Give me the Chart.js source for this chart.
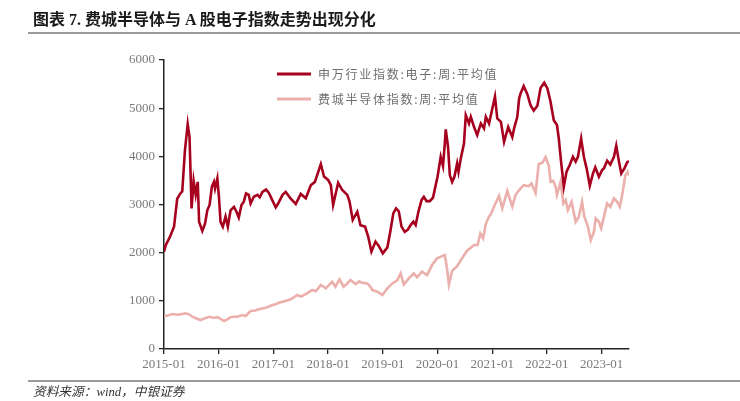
<!DOCTYPE html>
<html>
<head>
<meta charset="utf-8">
<script src="https://cdn.jsdelivr.net/npm/chart.js"></script>
<style>
  html, body { margin: 0; padding: 0; background: #fff; }
  #wrap { position: relative; width: 740px; height: 401px; overflow: hidden; }
  #c { position: absolute; left: 0; top: 0; }
  #title { position: absolute; left: 33px; top: 10px; font: bold 16px "Liberation Serif", "Noto Sans CJK SC", serif; color: #1a1a1a; white-space: nowrap; line-height: 20px; }
  .rule { position: absolute; left: 28px; width: 712px; height: 2px; background: #9a9a9a; }
  #note { position: absolute; left: 33px; top: 384px; font: italic 12.7px "Liberation Serif", "Noto Sans CJK SC", serif; color: #333; white-space: nowrap; line-height: 16px; }
</style>
</head>
<body>
<div id="wrap">
  <canvas id="c" width="740" height="401"></canvas>
  <div id="title">图表 7. 费城半导体与 A 股电子指数走势出现分化</div>
  <div class="rule" style="top:32px"></div>
  <div class="rule" style="top:380px"></div>
  <div id="note">资料来源：wind，中银证券</div>
</div>
<script>
// Months since 2015-01 for each reading, and the weekly-average index values
const seriesNames = ['申万行业指数:电子:周:平均值', '费城半导体指数:周:平均值'];
const tickMonths = [0, 12, 24, 36, 48, 60, 72, 84, 96];
const tickLabels = ['2015-01','2016-01','2017-01','2018-01','2019-01','2020-01','2021-01','2022-01','2023-01'];

const swMonths = [
  0, 0.4, 0.95, 1.5, 2.2, 2.9, 3.6, 4.0, 4.6, 5.2,
  5.6, 6.05, 6.5, 6.95, 7.4, 7.7, 8.4, 9.0, 9.5, 10.0,
  10.5, 10.95, 11.2, 11.7, 12.05, 12.4, 12.9, 13.5, 14.0, 14.6,
  15.35, 15.9, 16.4, 17.0, 17.5, 18.0, 18.6, 19.0, 19.7, 20.5,
  21.0, 21.6, 22.4, 23.0, 23.75, 24.5, 25.1, 26.0, 26.7, 27.8,
  28.9, 30.0, 31.1, 32.2, 33.1, 33.6, 34.4, 35.1, 36.0, 36.6,
  37.1, 38.2, 39.1, 40.2, 40.7, 41.4, 42.4, 43.1, 44.1, 44.8,
  45.5, 46.4, 47.1, 48.0, 49.0, 49.7, 50.3, 50.9, 51.5, 52.1,
  52.8, 53.5, 54.1, 54.7, 55.2, 55.8, 56.5, 57.0, 57.6, 58.3,
  59.0, 59.6, 60.0, 60.7, 61.2, 61.6, 61.8, 62.3, 62.7, 63.2,
  63.7, 64.3, 64.6, 65.1, 65.8, 66.2, 66.9, 67.3, 68.0, 68.7,
  69.5, 70.2, 70.6, 71.3, 72.6, 73.1, 73.9, 74.6,
  75.5, 76.4, 76.8, 77.5, 77.9, 78.2, 78.9, 79.7, 80.4, 81.1,
  81.9, 82.6, 83.4, 84.1, 84.8, 85.5, 86.2, 86.6, 87.1, 87.7,
  88.3, 89.0, 89.7, 90.3, 90.8, 91.5, 92.1, 92.7, 93.4, 94.1,
  94.6, 95.4, 96.1, 96.5, 97.2, 97.9, 98.7, 99.2, 99.8, 100.3,
  101.0, 101.6, 102.0
];
const swValues = [
  2020, 2160, 2260, 2370, 2540, 3120, 3230, 3270, 4130, 4670,
  4400, 2920, 3490, 3200, 3470, 2640, 2450, 2600, 2880, 2990,
  3370, 3470, 3330, 3540, 3160, 2640, 2540, 2750, 2540, 2880,
  2950, 2850, 2730, 2990, 3060, 3230, 3200, 3020, 3160, 3200,
  3150, 3260, 3310, 3240, 3090, 2940, 3030, 3200, 3260, 3120,
  3010, 3220, 3130, 3400, 3470, 3610, 3840, 3580, 3510, 3400,
  2990, 3450, 3300, 3200, 3060, 2680, 2850, 2570, 2540, 2330,
  2020, 2230, 2140, 1985, 2110, 2470, 2815, 2920, 2860, 2540,
  2430, 2480, 2573, 2643, 2573, 2850, 3091, 3160, 3070, 3070,
  3140, 3402, 3575, 3990, 3800, 4270, 4558, 4200, 3610, 3470,
  3575, 3852, 3680, 3956, 4267, 4855, 4682, 4820, 4613, 4440,
  4682, 4578, 4820, 4682, 5240, 4786, 4716, 4300,
  4610, 4400, 4580, 4820, 5200, 5300, 5460, 5290, 5060, 4950,
  5050, 5420, 5530, 5410, 5130, 4750, 4650, 4370, 3890, 3370,
  3680, 3820, 3990, 3890, 3990, 4370, 3990, 3750, 3390, 3645,
  3770, 3575, 3714, 3750, 3910, 3830, 3990, 4220, 3890, 3645,
  3750, 3880, 3900
];

const soxMonths = [
  0, 1.0, 1.8, 3.0, 4.75, 5.5, 6.2, 7.0, 8.0, 9.0,
  9.9, 10.8, 11.7, 12.5, 13.2, 14.0, 14.6, 15.4, 16.1, 17.2,
  17.9, 19.0, 20.0, 20.8, 22.3, 23.0, 23.75, 24.5, 25.2, 26.0,
  27.4, 28.3, 29.2, 30.1, 31.1, 32.5, 33.3, 34.4, 35.5, 36.2,
  36.9, 37.6, 38.5, 39.4, 40.2, 40.9, 42.0, 42.8, 43.5, 44.6,
  45.2, 45.7, 46.8, 47.9, 49.0, 50.1, 51.2, 51.9, 52.6, 53.7,
  54.8, 55.5, 56.6, 57.7, 58.8, 59.9, 61.0, 61.6, 62.1, 62.5,
  63.2, 64.3, 65.4, 66.5, 68.0, 68.8, 69.4, 70.0, 70.6, 71.3,
  71.6, 72.7, 73.5, 74.2, 75.3, 76.4, 77.1, 77.9, 78.9, 80.0,
  80.6, 81.5, 82.2, 83.0, 83.7, 84.4, 84.8, 85.4, 85.9, 86.2,
  87.0, 87.6, 88.1, 88.6, 89.4, 90.3, 91.0, 91.7, 92.2, 93.0,
  93.6, 94.3, 94.7, 95.4, 95.9, 96.5, 97.2, 97.9, 98.7, 99.4,
  100.0, 100.5, 101.2, 101.7, 102.0
];
const soxValues = [
  680, 700, 726, 710, 740, 720, 670, 640, 602, 640,
  670, 650, 660, 620, 581, 620, 660, 670, 670, 705,
  685, 788, 800, 823, 857, 880, 913, 930, 961, 982,
  1017, 1060, 1120, 1090, 1140, 1224, 1200, 1328, 1259, 1330,
  1397, 1294, 1446, 1294, 1360, 1431, 1348, 1400, 1376, 1362,
  1300, 1224, 1190, 1120, 1259, 1362, 1431, 1570, 1340, 1467,
  1570, 1490, 1605, 1535, 1743, 1882, 1929, 1950, 1660, 1340,
  1620, 1720, 1890, 2040, 2160, 2160, 2400, 2300, 2600, 2750,
  2780, 3020, 3180, 2920, 3280, 2960, 3195, 3300, 3402, 3380,
  3437, 3240, 3840, 3870, 3985, 3810, 3471, 3490, 3367, 3200,
  3471, 3022, 3091, 2884, 3056, 2641, 2745, 3056, 2745, 2537,
  2261, 2433, 2711, 2641, 2504, 2745, 3022, 2952, 3126, 3056,
  2952, 3195, 3610, 3680, 3600
];

const toPoints = (xs, ys) => xs.map((x, i) => ({ x: x, y: ys[i] }));

const legendPlugin = {
  id: 'insideLegend',
  afterDraw(chart) {
    const { ctx, chartArea } = chart;
    const lx = chartArea.left + 113, len = 34, tx = chartArea.left + 154;
    const rowY = [chartArea.top + 14, chartArea.top + 39];
    ctx.save();
    chart.data.datasets.forEach((ds, i) => {
      ctx.strokeStyle = ds.borderColor;
      ctx.lineWidth = 3;
      ctx.beginPath();
      ctx.moveTo(lx, rowY[i]);
      ctx.lineTo(lx + len, rowY[i]);
      ctx.stroke();
      ctx.fillStyle = '#6e6e6e';
      ctx.font = '12px "Noto Sans CJK SC"';
      try { ctx.letterSpacing = '1.75px'; } catch (e) {}
      ctx.textBaseline = 'middle';
      ctx.textAlign = 'left';
      ctx.fillText(ds.label, tx, rowY[i]);
    });
    ctx.restore();
  }
};

const axisFont = { family: '"Liberation Serif", serif', size: 13 };

new Chart(document.getElementById('c'), {
  type: 'line',
  data: {
    datasets: [
      { label: seriesNames[0], data: toPoints(swMonths, swValues), borderColor: '#A6001E', borderWidth: 2.6, pointRadius: 0, tension: 0, fill: false },
      { label: seriesNames[1], data: toPoints(soxMonths, soxValues), borderColor: '#EBAFAC', borderWidth: 2.6, pointRadius: 0, tension: 0, fill: false }
    ]
  },
  options: {
    responsive: false,
    animation: false,
    layout: { padding: { top: 60, right: 111, left: 0, bottom: 0 } },
    plugins: { legend: { display: false }, tooltip: { enabled: false } },
    scales: {
      x: {
        type: 'linear', min: 0, max: 102,
        afterBuildTicks: (scale) => { scale.ticks = tickMonths.map(v => ({ value: v })); },
        afterFit: (scale) => { scale.height = 52; },
        ticks: { callback: (v, i) => tickLabels[i], font: axisFont, color: '#7a7a7a', padding: 3, maxRotation: 0, autoSkip: false },
        grid: { drawOnChartArea: false, drawTicks: true, tickLength: 5, color: '#222', lineWidth: 1.3 },
        border: { display: true, color: '#222', width: 1.5 }
      },
      y: {
        min: 0, max: 6000,
        afterFit: (scale) => { scale.width = 164; },
        ticks: { stepSize: 1000, font: axisFont, color: '#7a7a7a', padding: 4, callback: (v) => String(v) },
        grid: { drawOnChartArea: false, drawTicks: true, tickLength: 5, color: '#222', lineWidth: 1.3 },
        border: { display: true, color: '#222', width: 1.5 }
      }
    }
  },
  plugins: [legendPlugin]
});
</script>
</body>
</html>
